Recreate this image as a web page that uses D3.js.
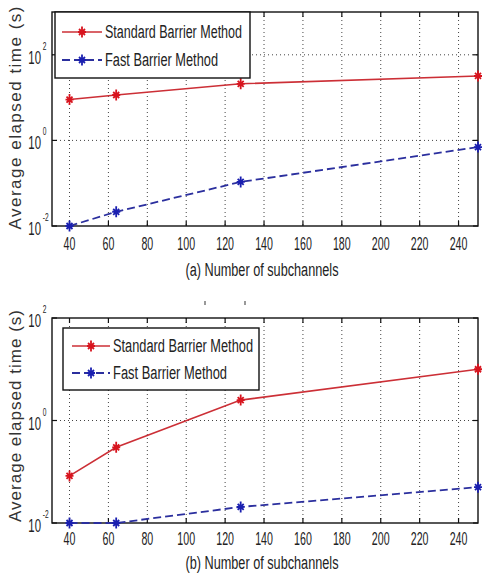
<!DOCTYPE html>
<meta charset="utf-8">
<style>
body { margin: 0; background: #fff; }
svg { font-family: "Liberation Sans", Arial, sans-serif; }
.grid { stroke: #444; stroke-width: 1; stroke-dasharray: 1,3; fill: none; }
.frame { fill: none; stroke: #111; stroke-width: 1.4; }
.tick { stroke: #111; stroke-width: 1.2; }
.std { fill: none; stroke: #cc2f36; stroke-width: 1.6; }
.fast { fill: none; stroke: #2b2f9e; stroke-width: 1.8; stroke-dasharray: 8,4; }
.mstd { stroke: #d8141e; stroke-width: 1.8; fill: none; }
.mfast { stroke: #1a1fb0; stroke-width: 1.8; fill: none; }
</style>
<svg width="489" height="575"></svg>
<script src="https://cdn.jsdelivr.net/npm/d3@7"></script>
<script>

// data
var subchannels = [40, 64, 128, 250];
var xTicks = [40, 60, 80, 100, 120, 140, 160, 180, 200, 220, 240];
var stdA = [9, 11.5, 21, 32];
var fastA = [0.01, 0.0215, 0.107, 0.7];
var stdB = [0.083, 0.30, 2.5, 10];
var fastB = [0.01, 0.01, 0.0206, 0.05];
var seriesNames = ["Standard Barrier Method", "Fast Barrier Method"];
var yLabel = "Average elapsed time (s)";

var svg = d3.select("svg");

var x = d3.scaleLinear().domain([31, 250]).range([52, 478]);

var panels = [
  {top: 12, bottom: 226, ydom: [1e-2, 1e3], yexp: [-2, 0, 2], std: stdA, fast: fastA,
   xlabel: "(a) Number of subchannels", xlabY: 276, tickY: 250,
   leg: {x: 55, y: 12, w: 195, h: 66, r1: 20, r2: 48, s0: 7, s1: 47, tx: 50, w1: 137, w2: 113},
   ylabC: 118, ylabLen: 223},
  {top: 318, bottom: 523, ydom: [1e-2, 1e2], yexp: [-2, 0, 2], std: stdB, fast: fastB,
   xlabel: "(b) Number of subchannels", xlabY: 569, tickY: 545,
   leg: {x: 63, y: 328, w: 196, h: 62, r1: 18, r2: 45, s0: 9, s1: 47, tx: 50, w1: 140, w2: 114},
   ylabC: 416, ylabLen: 212}
];

var star = "M0,-5.5V5.5M-4,0H4M-3,-3L3,3M-3,3L3,-3";

function squeeze(sel, k) {
  sel.each(function() {
    var n = this.getComputedTextLength();
    d3.select(this).attr("textLength", n * k).attr("lengthAdjust", "spacingAndGlyphs");
  });
}

panels.forEach(function(p) {
  var y = d3.scaleLog().domain(p.ydom).range([p.bottom, p.top]);
  var g = svg.append("g");
  var x0 = x.range()[0], x1 = x.range()[1];

  // grid
  g.selectAll(".gx").data(xTicks).enter().append("line")
    .attr("class", "grid")
    .attr("x1", function(d) { return x(d); }).attr("x2", function(d) { return x(d); })
    .attr("y1", p.top).attr("y2", p.bottom);
  g.selectAll(".gy").data(p.yexp.filter(function(e) { return y(Math.pow(10, e)) > p.top + 1 && y(Math.pow(10, e)) < p.bottom - 1; }))
    .enter().append("line")
    .attr("class", "grid")
    .attr("x1", x0).attr("x2", x1)
    .attr("y1", function(e) { return y(Math.pow(10, e)); })
    .attr("y2", function(e) { return y(Math.pow(10, e)); });

  // ticks (inward, mirrored)
  xTicks.forEach(function(t) {
    g.append("line").attr("class", "tick").attr("x1", x(t)).attr("x2", x(t)).attr("y1", p.bottom).attr("y2", p.bottom - 5);
    g.append("line").attr("class", "tick").attr("x1", x(t)).attr("x2", x(t)).attr("y1", p.top).attr("y2", p.top + 5);
  });
  p.yexp.forEach(function(e) {
    var yy = y(Math.pow(10, e));
    g.append("line").attr("class", "tick").attr("x1", x0).attr("x2", x0 + 5).attr("y1", yy).attr("y2", yy);
    g.append("line").attr("class", "tick").attr("x1", x1).attr("x2", x1 - 5).attr("y1", yy).attr("y2", yy);
  });

  g.append("rect").attr("class", "frame")
    .attr("x", x0).attr("y", p.top).attr("width", x1 - x0).attr("height", p.bottom - p.top);

  // x tick labels
  var xl = g.selectAll(".xl").data(xTicks).enter().append("text")
    .attr("x", function(d) { return x(d); }).attr("y", p.tickY)
    .attr("text-anchor", "middle").attr("font-size", 19).attr("fill", "#222")
    .text(function(d) { return d; });
  squeeze(xl, 0.56);

  // y tick labels 10^e, narrowed with a horizontal scale
  p.yexp.forEach(function(e) {
    var yy = y(Math.pow(10, e));
    var lab = g.append("g").attr("transform", "translate(41," + (yy + 9) + ") scale(0.6,1)");
    lab.append("text").attr("text-anchor", "end").attr("font-size", 19).attr("fill", "#222").text("10");
    lab.append("text").attr("x", 3).attr("y", -14).attr("font-size", 11).attr("fill", "#222").text(e);
  });

  // y axis label
  g.append("text")
    .attr("transform", "translate(15," + p.ylabC + ") rotate(-90)")
    .attr("text-anchor", "middle").attr("dy", "0.35em")
    .attr("font-size", 17).attr("fill", "#333")
    .attr("textLength", p.ylabLen).attr("lengthAdjust", "spacing")
    .text(yLabel);

  // x axis label
  g.append("text").attr("x", 262).attr("y", p.xlabY).attr("text-anchor", "middle")
    .attr("font-size", 18).attr("fill", "#222")
    .attr("textLength", 153).attr("lengthAdjust", "spacingAndGlyphs")
    .text(p.xlabel);

  // series
  var line = d3.line()
    .x(function(d, i) { return x(subchannels[i]); })
    .y(function(d) { return y(d); });

  g.append("path").datum(p.fast).attr("class", "fast").attr("d", line);
  g.append("path").datum(p.std).attr("class", "std").attr("d", line);

  g.selectAll(".mf").data(p.fast).enter().append("path").attr("class", "mfast")
    .attr("transform", function(d, i) { return "translate(" + x(subchannels[i]) + "," + y(d) + ")"; })
    .attr("d", star);
  g.selectAll(".ms").data(p.std).enter().append("path").attr("class", "mstd")
    .attr("transform", function(d, i) { return "translate(" + x(subchannels[i]) + "," + y(d) + ")"; })
    .attr("d", star);

  // legend
  var L = p.leg;
  var lg = g.append("g").attr("transform", "translate(" + L.x + "," + L.y + ")");
  lg.append("rect").attr("width", L.w).attr("height", L.h)
    .attr("fill", "#fff").attr("stroke", "#111").attr("stroke-width", 1.4);
  [["std", "mstd", L.r1, L.w1], ["fast", "mfast", L.r2, L.w2]].forEach(function(r, i) {
    lg.append("line").attr("class", r[0]).attr("x1", L.s0).attr("x2", L.s1).attr("y1", r[2]).attr("y2", r[2]);
    lg.append("path").attr("class", r[1]).attr("d", star)
      .attr("transform", "translate(" + ((L.s0 + L.s1) / 2) + "," + r[2] + ")");
    lg.append("text").attr("x", L.tx).attr("y", r[2] + 6).attr("font-size", 18).attr("fill", "#222")
      .attr("textLength", r[3]).attr("lengthAdjust", "spacingAndGlyphs")
      .text(seriesNames[i]);
  });
});

// small stray marks above the lower panel
[205, 245].forEach(function(xx) {
  svg.append("line").attr("x1", xx).attr("x2", xx).attr("y1", 301).attr("y2", 305)
    .attr("stroke", "#555").attr("stroke-width", 1.2);
});

</script>
